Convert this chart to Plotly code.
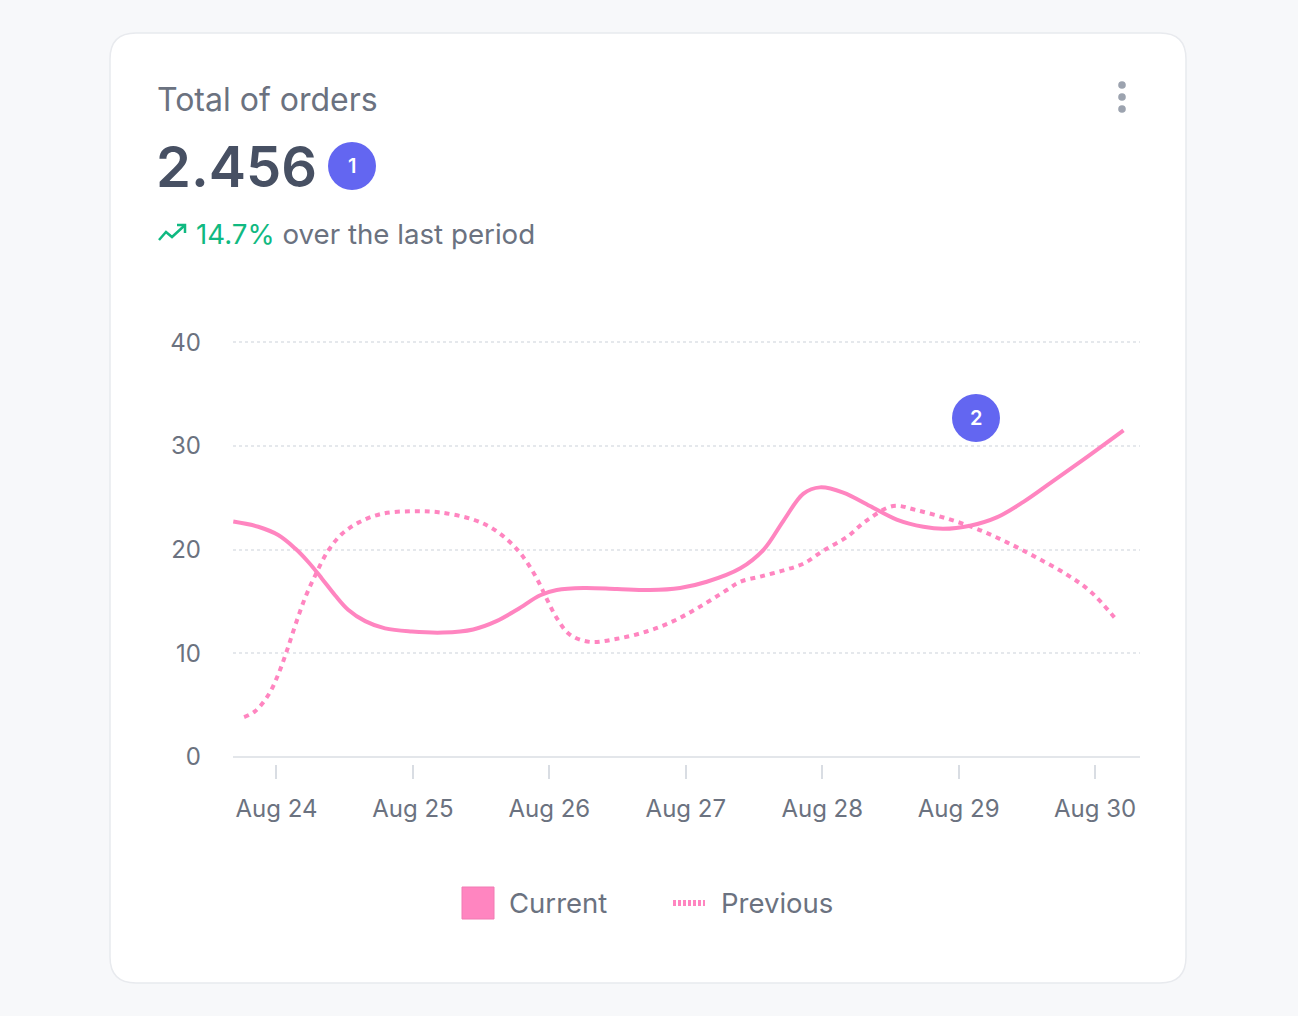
import plotly.graph_objects as go
import pandas as pd

# data (hours after Aug 24 00:00 -> order count)
cur_hours = [-7.6, -3.2, 0.3, 3.3, 5.6, 8.0, 10.3, 12.6, 15.6, 19.1, 23.8, 29.3,
             34.6, 38.7, 42.3, 46.4, 49.3, 54.0, 59.9, 65.7, 71.0, 75.7, 81.6,
             85.7, 89.2, 92.7, 95.6, 99.7, 104.4, 109.1, 113.8, 117.3,
             122.0, 126.7, 131.4, 136.1, 142.0, 149.0]
cur_vals = [22.7, 22.2, 21.4, 20.1, 18.8, 17.2, 15.6, 14.2, 13.1, 12.4, 12.1, 12.0,
            12.3, 13.1, 14.2, 15.6, 16.1, 16.3, 16.2, 16.1, 16.3, 16.9, 18.2,
            20.0, 22.8, 25.4, 26.0, 25.5, 24.2, 22.9, 22.2, 22.0,
            22.3, 23.1, 24.6, 26.4, 28.7, 31.5]
prev_hours = [-5.7, -3.8, -1.4, 0.3, 1.8, 3.3, 5.0, 6.8, 9.1, 11.5, 14.4, 18.5,
              23.8, 28.5, 34.6, 38.1, 41.1, 43.4, 45.8, 47.5, 49.3, 51.6, 55.1,
              59.9, 65.1, 69.8, 74.5, 79.2, 81.6, 85.1, 89.2, 92.7, 96.2, 100.3,
              103.8, 108.5, 112.6, 117.9, 123.2, 128.5, 133.8, 139.0, 143.1, 147.8]
prev_vals = [3.85, 4.4, 6.0, 7.95, 10.2, 12.7, 15.3, 17.5, 19.9, 21.5, 22.6, 23.45,
             23.7, 23.6, 22.9, 22.0, 20.7, 19.3, 17.2, 15.3, 13.4, 11.8, 11.1,
             11.4, 12.1, 13.1, 14.5, 16.1, 16.9, 17.4, 18.0, 18.65, 19.9, 21.2,
             22.8, 24.2, 23.8, 23.0, 22.0, 20.7, 19.2, 17.6, 16.0, 13.2]
day_ticks = ["2023-08-24", "2023-08-25", "2023-08-26", "2023-08-27",
             "2023-08-28", "2023-08-29", "2023-08-30"]
tick_text = ["Aug 24", "Aug 25", "Aug 26", "Aug 27", "Aug 28", "Aug 29", "Aug 30"]
y_ticks = [0, 10, 20, 30, 40]

start = pd.Timestamp("2023-08-24")
cur_x = [start + pd.Timedelta(hours=h) for h in cur_hours]
prev_x = [start + pd.Timedelta(hours=h) for h in prev_hours]

PINK = "#ff85c0"
GRAY = "#6b7280"
INDIGO = "#6366f1"
GREEN = "#10b981"
FONT = "Inter"

# plot area in pixels
L, R, T, B = 233, 1140, 337, 764
W, H = 1298, 1016


def px(x):
    return (x - L) / (R - L)


def py(y):
    return (B - y) / (B - T)


fig = go.Figure()
fig.add_trace(go.Scatter(x=prev_x, y=prev_vals, name="Previous", mode="lines",
                         line=dict(color=PINK, width=4, dash="5px,5px",
                                   shape="spline", smoothing=1.0),
                         hoverinfo="skip", showlegend=False))
fig.add_trace(go.Scatter(x=cur_x, y=cur_vals, name="Current", mode="lines",
                         line=dict(color=PINK, width=4, shape="spline", smoothing=1.0),
                         hoverinfo="skip", showlegend=False))

shapes = []
# card
cx0, cx1, cy0, cy1, r = 110, 1186, 33, 983, 26
rx, ry = r / (R - L), r / (B - T)
card = (f"M {px(cx0)+rx},{py(cy0)} L {px(cx1)-rx},{py(cy0)} "
        f"Q {px(cx1)},{py(cy0)} {px(cx1)},{py(cy0)-ry} "
        f"L {px(cx1)},{py(cy1)+ry} Q {px(cx1)},{py(cy1)} {px(cx1)-rx},{py(cy1)} "
        f"L {px(cx0)+rx},{py(cy1)} Q {px(cx0)},{py(cy1)} {px(cx0)},{py(cy1)+ry} "
        f"L {px(cx0)},{py(cy0)-ry} Q {px(cx0)},{py(cy0)} {px(cx0)+rx},{py(cy0)} Z")
shapes.append(dict(type="path", path=card, xref="paper", yref="paper", layer="below",
                   fillcolor="white", line=dict(color="#e8eaee", width=1.5)))


def circle(cx, cy, rad, color):
    return dict(type="circle", xref="paper", yref="paper",
                x0=px(cx - rad), x1=px(cx + rad), y0=py(cy + rad), y1=py(cy - rad),
                fillcolor=color, line=dict(width=0))


shapes.append(circle(352, 166, 24, INDIGO))
shapes.append(circle(976, 418, 24, INDIGO))
for dy in (85, 97, 109):
    shapes.append(circle(1122, dy, 3.8, "#9ca3af"))

# trend icon
icon = (f"M {px(159)},{py(240)} L {px(166)},{py(232)} L {px(172)},{py(237)} "
        f"L {px(184)},{py(226)}")
shapes.append(dict(type="path", path=icon, xref="paper", yref="paper",
                   line=dict(color=GREEN, width=2.5)))
arrow = f"M {px(177)},{py(225)} L {px(185)},{py(225)} L {px(185)},{py(233)}"
shapes.append(dict(type="path", path=arrow, xref="paper", yref="paper",
                   line=dict(color=GREEN, width=2.5)))

# legend
lsq = (462, 887, 494, 919)
shapes.append(dict(type="rect", xref="paper", yref="paper",
                   x0=px(lsq[0]), x1=px(lsq[2]), y0=py(lsq[3]), y1=py(lsq[1]),
                   fillcolor=PINK, line=dict(color="#f17ab3", width=1)))
shapes.append(dict(type="line", xref="paper", yref="paper",
                   x0=px(673), x1=px(705), y0=py(903), y1=py(903),
                   line=dict(color=PINK, width=6, dash="3px,2px")))

annotations = [
    dict(text="Total of orders", x=px(155), y=py(99), font=dict(size=32, color=GRAY)),
    dict(text="2.456", x=px(154), y=py(167),
         font=dict(size=56, color="#475063", weight=600)),
    dict(text=f"<span style='color:{GREEN}'>14.7%</span> over the last period",
         x=px(194), y=py(234), font=dict(size=27.7, color=GRAY)),
    dict(text="Current", x=px(507), y=py(903), font=dict(size=27.5, color=GRAY)),
    dict(text="Previous", x=px(719), y=py(903), font=dict(size=27.5, color=GRAY)),
]
for a in annotations:
    a.update(xref="paper", yref="paper", xanchor="left", yanchor="middle",
             showarrow=False)
annotations += [
    dict(text="1", x=px(352), y=py(166)),
    dict(text="2", x=px(976), y=py(418)),
]
for a in annotations[-2:]:
    a.update(xref="paper", yref="paper", xanchor="center", yanchor="middle",
             showarrow=False, font=dict(size=20, color="white", weight=600))

fig.update_layout(
    width=W, height=H,
    margin=dict(l=L, r=W - R, t=T, b=H - B),
    paper_bgcolor="#f7f8fa",
    plot_bgcolor="rgba(0,0,0,0)",
    font=dict(family=FONT, color=GRAY),
    shapes=shapes,
    annotations=annotations,
    showlegend=False,
    xaxis=dict(
        type="date",
        range=[start - pd.Timedelta(hours=7.65), start + pd.Timedelta(hours=151.9)],
        tickvals=day_ticks, ticktext=tick_text,
        showgrid=False, zeroline=False, showline=False,
        ticks="outside", ticklen=14, tickwidth=2, tickcolor="#d9dde3",
        tickfont=dict(size=24, color=GRAY),
        ticklabelstandoff=9,
    ),
    yaxis=dict(
        range=[-0.675, 40.5],
        tickvals=y_ticks,
        showgrid=True, gridcolor="#e5e8ec", griddash="dot", gridwidth=1.5,
        zeroline=True, zerolinecolor="#e3e6ea", zerolinewidth=2,
        showline=False, ticks="",
        tickfont=dict(size=24, color=GRAY),
        ticklabelstandoff=31,
    ),
)

fig.write_html("out.html", config={"displayModeBar": False},
               post_script="document.body.style.margin='0';")
